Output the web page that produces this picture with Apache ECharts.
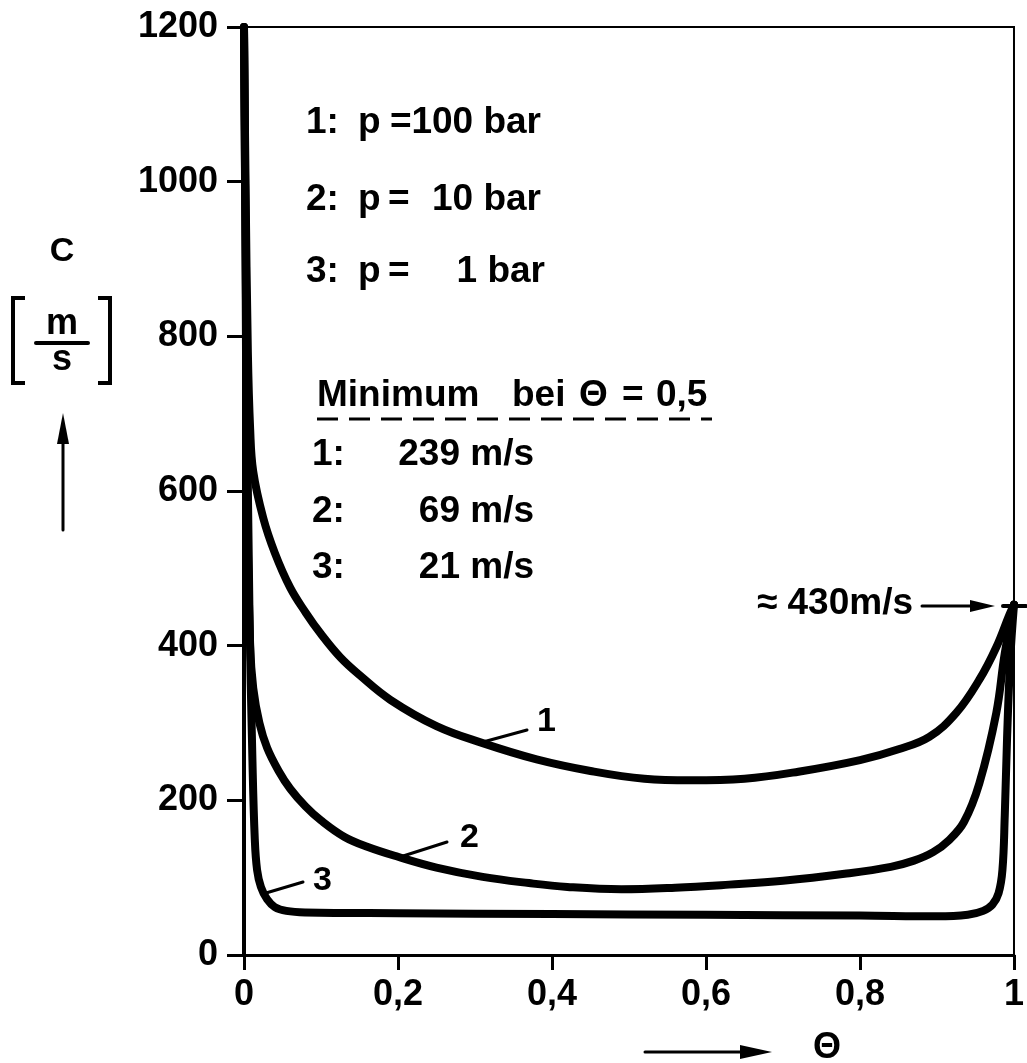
<!DOCTYPE html>
<html>
<head>
<meta charset="utf-8">
<script src="https://cdn.jsdelivr.net/npm/echarts@6/dist/echarts.min.js"></script>
<style>
  html, body { margin: 0; padding: 0; background: #fff; }
  #chart { width: 1027px; height: 1063px; }
</style>
</head>
<body>
<div id="chart"></div>
<script>
// values (theta, c in m/s)
var theta1 = [0, 0.002, 0.005, 0.008, 0.012, 0.025, 0.04, 0.06, 0.08, 0.1, 0.125, 0.15, 0.19, 0.25, 0.31, 0.38, 0.45, 0.52, 0.58, 0.65, 0.72, 0.8, 0.85, 0.89, 0.925, 0.955, 0.977, 0.994, 1];
var speed1 = [1200, 1000, 780, 680, 625, 565, 520, 475, 443, 415, 385, 362, 330, 296, 274, 253, 238, 228, 226, 228, 237, 252, 266, 282, 313, 356, 398, 440, 453];

var theta2 = [0, 0.002, 0.004, 0.008, 0.012, 0.02, 0.03, 0.045, 0.06, 0.08, 0.1, 0.13, 0.16, 0.2, 0.25, 0.31, 0.37, 0.42, 0.49, 0.56, 0.63, 0.7, 0.78, 0.84, 0.87, 0.895, 0.915, 0.935, 0.955, 0.977, 0.988, 1];
var speed2 = [1200, 900, 600, 400, 345, 300, 268, 238, 215, 192, 174, 153, 140, 127, 113, 101, 93, 88, 85, 87, 91, 96, 105, 114, 122, 133, 148, 172, 222, 313, 390, 453];

var theta3 = [0, 0.003, 0.007, 0.011, 0.014, 0.017, 0.022, 0.03, 0.04, 0.055, 0.08, 0.2, 0.4, 0.6, 0.8, 0.9, 0.94, 0.96, 0.972, 0.98, 0.985, 0.988, 0.991, 0.995, 1];
var speed3 = [1200, 800, 450, 250, 150, 110, 88, 72, 62, 57, 55, 54, 53, 52, 51, 50, 52, 57, 65, 80, 110, 180, 280, 380, 453];

var xTicks = [0, 0.2, 0.4, 0.6, 0.8, 1];
var yTicks = [0, 200, 400, 600, 800, 1000, 1200];

var pressureRows = [['1:', 'p', '=', '100 bar'], ['2:', 'p', '=', '10 bar'], ['3:', 'p', '=', '1 bar']];
var minimumRows = [['1:', '239 m/s'], ['2:', '69 m/s'], ['3:', '21 m/s']];

function pairs(xs, ys) {
  return xs.map(function (x, i) { return [x, ys[i]]; });
}

var FONT = 'Liberation Sans, Arial, sans-serif';

function txt(s, x, y, size, align, weight) {
  return {
    type: 'text', x: x, y: y, z: 100,
    style: {
      text: s, fill: '#000', fontSize: size || 36, fontFamily: FONT,
      fontWeight: weight || 'bold',
      textAlign: align || 'left', textVerticalAlign: 'middle'
    }
  };
}
function ln(x1, y1, x2, y2, w) {
  return {
    type: 'line', z: 100,
    shape: { x1: x1, y1: y1, x2: x2, y2: y2 },
    style: { stroke: '#000', lineWidth: w || 3, lineCap: 'round' }
  };
}
function poly(points, closed) {
  return {
    type: closed ? 'polygon' : 'polyline', z: 100,
    shape: { points: points },
    style: closed ? { fill: '#000' } : { stroke: '#000', fill: null, lineWidth: 4 }
  };
}

var graphics = [];
// pressure legend
var rowY = [123, 200, 272];
var eqX = [390, 388, 388];
var barRight = [541, 541, 545];
pressureRows.forEach(function (r, i) {
  graphics.push(txt(r[0], 306, rowY[i], 37));
  graphics.push(txt(r[1], 358, rowY[i], 37));
  graphics.push(txt(r[2], eqX[i], rowY[i], 37));
  graphics.push(txt(r[3], barRight[i], rowY[i], 37, 'right'));
});
// minimum block
graphics.push(txt('Minimum', 317, 396, 37));
graphics.push(txt('bei', 512, 396, 37));
graphics.push(txt('Θ', 579, 396, 37));
graphics.push(txt('=', 622, 396, 37));
graphics.push(txt('0,5', 656, 396, 37));
graphics.push({
  type: 'line', z: 100,
  shape: { x1: 317, y1: 419, x2: 712, y2: 419 },
  style: { stroke: '#000', lineWidth: 3, lineDash: [21, 11] }
});
var minY = [455, 512, 568];
minimumRows.forEach(function (r, i) {
  graphics.push(txt(r[0], 312, minY[i], 37));
  graphics.push(txt(r[1], 534, minY[i], 37, 'right'));
});
// ~430 m/s marker
graphics.push(txt('≈ 430m/s', 913, 604, 37, 'right'));
graphics.push(ln(922, 606, 975, 606, 3));
graphics.push(poly([[970, 600], [995, 606], [970, 612]], true));
graphics.push(ln(1003, 606, 1026, 606, 4));
// curve labels
graphics.push(txt('1', 537, 722, 34));
graphics.push(ln(483, 742, 527, 730, 3));
graphics.push(txt('2', 460, 838, 34));
graphics.push(ln(400, 857, 447, 842, 3));
graphics.push(txt('3', 313, 881, 34));
graphics.push(ln(266, 893, 303, 882, 3));
// y axis title
graphics.push(txt('C', 62, 252, 34, 'center'));
graphics.push(txt('m', 62, 324, 36, 'center'));
graphics.push(ln(36, 343, 88, 343, 4));
graphics.push(txt('s', 62, 360, 36, 'center'));
graphics.push(poly([[25, 298], [13, 298], [13, 383], [25, 383]]));
graphics.push(poly([[98, 298], [110, 298], [110, 383], [98, 383]]));
graphics.push(ln(63, 530, 63, 438, 3));
graphics.push(poly([[57, 444], [63, 413], [69, 444]], true));
// x axis title
graphics.push(ln(645, 1052, 745, 1052, 3));
graphics.push(poly([[740, 1045], [772, 1052], [740, 1059]], true));
graphics.push(txt('Θ', 827, 1048, 36, 'center'));

function curve(name, xs, ys) {
  return {
    name: name, type: 'line', data: pairs(xs, ys),
    showSymbol: false, smooth: 0.4,
    lineStyle: { color: '#000', width: 8, cap: 'round', join: 'round' },
    itemStyle: { color: '#000' }, z: 5
  };
}

var chart = echarts.init(document.getElementById('chart'));
chart.setOption({
  animation: false,
  backgroundColor: '#fff',
  grid: {
    left: 244, right: 9, top: 27, bottom: 108,
    show: true, borderColor: '#000', borderWidth: 2
  },
  xAxis: {
    type: 'value', min: 0, max: 1, interval: 0.2,
    axisLine: { lineStyle: { color: '#000', width: 3 } },
    axisTick: { length: 15, lineStyle: { color: '#000', width: 3 } },
    splitLine: { show: false },
    axisLabel: {
      color: '#000', fontSize: 36, fontWeight: 'bold', fontFamily: FONT, margin: 22,
      formatter: function (v) {
        var t = xTicks.find(function (k) { return Math.abs(k - v) < 1e-6; });
        return String(t).replace('.', ',');
      }
    }
  },
  yAxis: {
    type: 'value', min: 0, max: 1200, interval: 200,
    axisLine: { lineStyle: { color: '#000', width: 4 } },
    axisTick: { length: 17, lineStyle: { color: '#000', width: 3 } },
    splitLine: { show: false },
    axisLabel: {
      color: '#000', fontSize: 36, fontWeight: 'bold', fontFamily: FONT, margin: 26,
      formatter: function (v) { return yTicks.indexOf(v) >= 0 ? String(v) : ''; }
    }
  },
  series: [
    curve('1', theta1, speed1),
    curve('2', theta2, speed2),
    curve('3', theta3, speed3)
  ],
  graphic: graphics
});
</script>
</body>
</html>
